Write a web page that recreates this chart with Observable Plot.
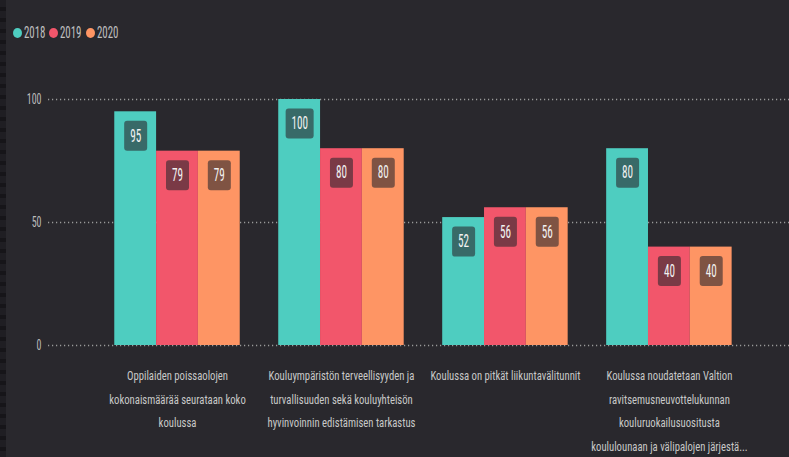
<!DOCTYPE html>
<html><head><meta charset="utf-8">
<script src="https://cdn.jsdelivr.net/npm/d3@7"></script>
<script src="https://cdn.jsdelivr.net/npm/@observablehq/plot@0.6"></script>
<style>
html,body{margin:0;padding:0;background:#29282d;}
body{position:relative;width:789px;height:457px;overflow:hidden;font-family:"Roboto Condensed","Liberation Sans Narrow","DejaVu Sans Condensed",sans-serif;}
#edge{position:absolute;left:0;top:0;width:6px;height:457px;background:repeating-linear-gradient(to bottom,#1f1e23 0 7px,#161519 7px 11px);z-index:2;}
#legend{position:relative;height:50px;}
#legend .items{position:absolute;left:13px;top:24px;display:flex;align-items:center;gap:4px;}
#legend .item{display:flex;align-items:center;gap:2px;font-size:16px;color:#c0c0c0;line-height:18px;}
#legend .sw{width:9px;height:10px;border-radius:50%;display:inline-block;}
#legend .lab{display:inline-block;transform:scaleX(0.68);transform-origin:0 50%;}
#chart{position:relative;width:789px;height:407px;}
#chart svg{position:absolute;left:0;top:0;}
</style></head><body>
<div id="edge"></div>
<div id="legend"><div class="items"></div></div>
<div id="chart"></div>
<script>
const categories = [
  "Oppilaiden poissaolojen kokonaismäärää seurataan koko koulussa",
  "Kouluympäristön terveellisyyden ja turvallisuuden sekä kouluyhteisön hyvinvoinnin edistämisen tarkastus",
  "Koulussa on pitkät liikuntavälitunnit",
  "Koulussa noudatetaan Valtion ravitsemusneuvottelukunnan kouluruokailusuositusta koululounaan ja välipalojen järjestämisessä"
];
const categoryLabels = [
  "Oppilaiden poissaolojen\nkokonaismäärää seurataan koko\nkoulussa",
  "Kouluympäristön terveellisyyden ja\nturvallisuuden sekä kouluyhteisön\nhyvinvoinnin edistämisen tarkastus",
  "Koulussa on pitkät liikuntavälitunnit",
  "Koulussa noudatetaan Valtion\nravitsemusneuvottelukunnan\nkouluruokailusuositusta\nkoululounaan ja välipalojen järjestä..."
];
const years = ["2018", "2019", "2020"];
const values2018 = [95, 100, 52, 80];
const values2019 = [79, 80, 56, 40];
const values2020 = [79, 80, 56, 40];
const yTicks = [0, 50, 100];
const colors = ["#4ecdc0", "#f2566b", "#fe9564"];

const series = [values2018, values2019, values2020];
const data = categories.flatMap((c, i) => years.map((y, j) => ({category: c, year: y, value: series[j][i]})));
const labelOf = new Map(categories.map((c, i) => [c, categoryLabels[i]]));

// legend
const items = document.querySelector("#legend .items");
years.forEach((y, j) => {
  const it = document.createElement("span");
  it.className = "item";
  it.innerHTML = `<span class="sw" style="background:${colors[j]}"></span><span class="lab">${y}</span>`;
  items.appendChild(it);
});
items.querySelectorAll(".lab").forEach(el => {
  el.style.marginRight = (-(1 - 0.68) * el.offsetWidth) + "px";
});

function roundBox(w, h, r) {
  return {draw(ctx) {
    const x0 = -w / 2, y0 = -h / 2, x1 = w / 2, y1 = h / 2;
    ctx.moveTo(x0 + r, y0);
    ctx.arcTo(x1, y0, x1, y1, r);
    ctx.arcTo(x1, y1, x0, y1, r);
    ctx.arcTo(x0, y1, x0, y0, r);
    ctx.arcTo(x0, y0, x1, y0, r);
    ctx.closePath();
  }};
}

const font = '"Roboto Condensed","Liberation Sans Narrow","DejaVu Sans Condensed",sans-serif';
const frame = {width: 789, height: 407, marginLeft: 48, marginRight: 0, marginTop: 49, marginBottom: 112};
const yScale = {domain: [0, 100], axis: null};

// background layer: dotted gridlines and y tick labels
const grid = Plot.plot({
  ...frame,
  style: {background: "transparent", fontFamily: font, overflow: "visible"},
  y: yScale,
  marks: [
    Plot.ruleY(yTicks, {stroke: "#9a9a9a", strokeDasharray: "1.2,2.8", strokeWidth: 1.3}),
    Plot.text(yTicks, {y: d => d, frameAnchor: "left", text: d => String(d), textAnchor: "end", dx: -7, fill: "#bdbdbd", fontSize: 15.5})
  ]
});

// foreground layer: grouped bars
const chart = Plot.plot({
  ...frame,
  style: {background: "transparent", fontFamily: font, overflow: "visible"},
  fx: {domain: categories, paddingInner: 0.2348, paddingOuter: 0.377, align: 0.536, round: false, label: null, axis: null},
  x: {domain: years, padding: 0, round: false, axis: null},
  y: yScale,
  color: {domain: years, range: colors},
  marks: [
    Plot.barY(data, {fx: "category", x: "year", y: "value", fill: "year"}),
    Plot.dot(data, {filter: d => d.value < 100, fx: "category", x: "year", y: "value", dy: 24, symbol: roundBox(23, 30, 3), fill: "#29282d", fillOpacity: 0.6, stroke: null}),
    Plot.dot(data, {filter: d => d.value >= 100, fx: "category", x: "year", y: "value", dy: 24, symbol: roundBox(28, 30, 3), fill: "#29282d", fillOpacity: 0.6, stroke: null}),
    Plot.text(data, {fx: "category", x: "year", y: "value", dy: 24, text: d => String(d.value), fill: "#f2f2f2", fontSize: 18}),
    Plot.axisFx({anchor: "bottom", tickSize: 0, tickPadding: 18, tickFormat: c => labelOf.get(c), fontSize: 12, lineHeight: 1.96, fill: "#c8c8c8", label: null})
  ]
});
const host = document.getElementById("chart");
host.appendChild(grid);
host.appendChild(chart);

// horizontally condense text, as in the reference's narrow face
function condense(nodes, k) {
  nodes.forEach(t => {
    const spans = t.querySelectorAll("tspan");
    const targets = spans.length ? Array.from(spans) : [t];
    targets.forEach(el => {
      const w = el.getComputedTextLength();
      el.setAttribute("textLength", (w * k).toFixed(2));
      el.setAttribute("lengthAdjust", "spacingAndGlyphs");
    });
  });
}
condense(grid.querySelectorAll("text"), 0.64);
condense(chart.querySelectorAll('g[aria-label="text"] text'), 0.62);
condense(chart.querySelectorAll('g[aria-label="fx-axis tick label"] text'), 0.89);
</script>
</body></html>
